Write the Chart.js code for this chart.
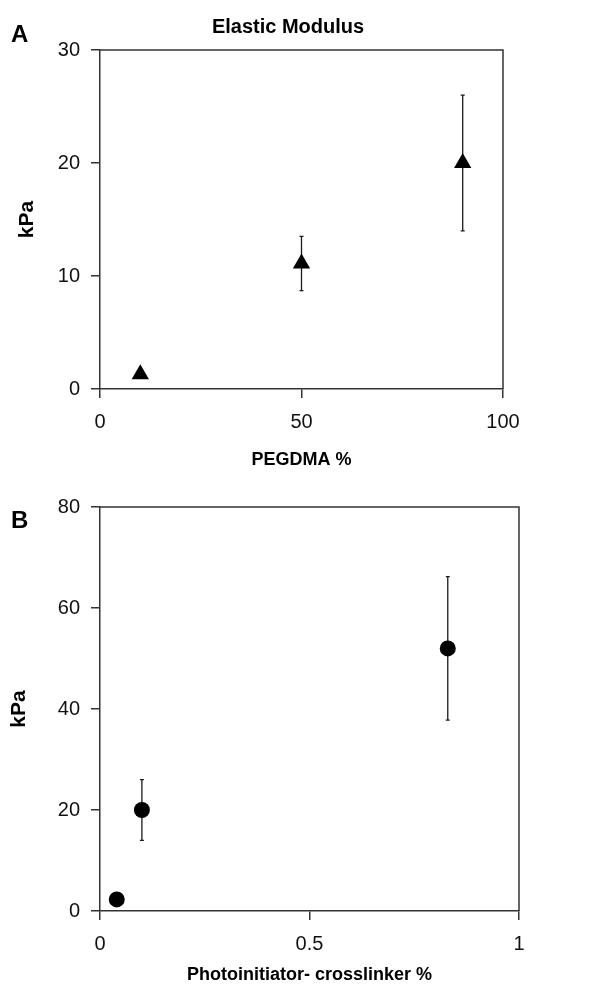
<!DOCTYPE html>
<html>
<head>
<meta charset="utf-8">
<script src="https://cdn.jsdelivr.net/npm/chart.js@4.4.0/dist/chart.umd.min.js"></script>
<style>
  body { margin: 0; background: #fff; overflow: hidden; }
  #wrapA { position: absolute; left: 0; top: 0; }
  #wrapB { position: absolute; left: 0; top: 480px; }
</style>
</head>
<body>
<div id="wrapA"><canvas id="chartA" width="610" height="480"></canvas></div>
<div id="wrapB"><canvas id="chartB" width="610" height="504"></canvas></div>
<script>
// panel A - elastic modulus vs PEGDMA %
var pegdmaPct   = [10, 50, 90];
var modulusA    = [1.3, 11.1, 20.0];
var modulusAErr = [0.3, 2.4, 6.0];
var xTicksA     = [0, 50, 100];
var yTicksA     = [0, 10, 20, 30];

// panel B - elastic modulus vs photoinitiator-crosslinker %
var photoPct    = [0.04, 0.10, 0.83];
var modulusB    = [2.3, 20.0, 52.0];
var modulusBErr = [0.5, 6.0, 14.2];
var xTicksB     = [0, 0.5, 1];
var yTicksB     = [0, 20, 40, 60, 80];

Chart.defaults.font.family = '"Liberation Sans", Arial, sans-serif';
Chart.defaults.color = '#111';

var axisColor = '#333';

// vertical error bars, drawn under the markers
function errorBars(errs) {
    return {
        id: 'errorBars',
        beforeDatasetsDraw: function (chart) {
            var ctx = chart.ctx, xs = chart.scales.x, ys = chart.scales.y;
            ctx.save();
            ctx.strokeStyle = '#1a1a1a';
            ctx.lineWidth = 1.3;
            chart.data.datasets[0].data.forEach(function (p, i) {
                var x = xs.getPixelForValue(p.x);
                var top = ys.getPixelForValue(p.y + errs[i]);
                var bot = ys.getPixelForValue(p.y - errs[i]);
                ctx.beginPath();
                ctx.moveTo(x, top); ctx.lineTo(x, bot);
                ctx.moveTo(x - 2, top); ctx.lineTo(x + 2, top);
                ctx.moveTo(x - 2, bot); ctx.lineTo(x + 2, bot);
                ctx.stroke();
            });
            ctx.restore();
        }
    };
}

// closes the box (top + right) and writes the panel letter / heading
function frame(letter, letterY, heading) {
    return {
        id: 'frame',
        afterDraw: function (chart) {
            var ctx = chart.ctx, a = chart.chartArea;
            ctx.save();
            ctx.strokeStyle = axisColor;
            ctx.lineWidth = 1.5;
            ctx.beginPath();
            ctx.moveTo(a.left, a.top); ctx.lineTo(a.right, a.top); ctx.lineTo(a.right, a.bottom);
            ctx.stroke();
            ctx.fillStyle = '#000';
            ctx.textBaseline = 'alphabetic';
            ctx.font = 'bold 24px "Liberation Sans", Arial, sans-serif';
            ctx.textAlign = 'left';
            ctx.fillText(letter, 11, letterY);
            if (heading) {
                ctx.font = 'bold 20px "Liberation Sans", Arial, sans-serif';
                ctx.textAlign = 'center';
                ctx.fillText(heading, 288, 33);
            }
            ctx.restore();
        }
    };
}

function makeScales(xTicks, yTicks, xTitle, xH, xTitlePad, xTitleLH, yTitlePad) {
    return {
        x: {
            type: 'linear',
            min: xTicks[0],
            max: xTicks[xTicks.length - 1],
            afterBuildTicks: function (s) { s.ticks = xTicks.map(function (v) { return { value: v }; }); },
            afterFit: function (s) { s.height = xH; },
            grid: { drawOnChartArea: false, drawTicks: true, tickLength: 9, color: axisColor, lineWidth: 1.5 },
            border: { color: axisColor, width: 1.5 },
            ticks: { font: { size: 20 }, padding: 12, maxRotation: 0, callback: function (v) { return String(v); } },
            title: { display: true, text: xTitle, font: { size: 18, weight: 'bold', lineHeight: xTitleLH }, color: '#000', padding: { top: 0, bottom: xTitlePad } }
        },
        y: {
            type: 'linear',
            min: yTicks[0],
            max: yTicks[yTicks.length - 1],
            afterBuildTicks: function (s) { s.ticks = yTicks.map(function (v) { return { value: v }; }); },
            afterFit: function (s) { s.width = 100; },
            grid: { drawOnChartArea: false, drawTicks: true, tickLength: 9, color: axisColor, lineWidth: 1.5 },
            border: { color: axisColor, width: 1.5 },
            ticks: { font: { size: 20 }, padding: 11, callback: function (v) { return String(v); } },
            title: { display: true, text: 'kPa', font: { size: 21, weight: 'bold' }, color: '#000', padding: { top: yTitlePad, bottom: 0 } }
        }
    };
}

function points(xs, ys) {
    return xs.map(function (x, i) { return { x: x, y: ys[i] }; });
}

new Chart(document.getElementById('chartA'), {
    type: 'scatter',
    data: {
        datasets: [{
            data: points(pegdmaPct, modulusA),
            pointStyle: 'triangle',
            pointRadius: 10,
            backgroundColor: '#000',
            borderColor: '#000',
            borderWidth: 0
        }]
    },
    options: {
        responsive: false,
        animation: false,
        layout: { padding: { left: 0, right: 107, top: 50, bottom: 0 } },
        plugins: { legend: { display: false }, tooltip: { enabled: false } },
        scales: makeScales(xTicksA, yTicksA, 'PEGDMA %', 91, 9, 1.2, 15)
    },
    plugins: [errorBars(modulusAErr), frame('A', 42, 'Elastic Modulus')]
});

new Chart(document.getElementById('chartB'), {
    type: 'scatter',
    data: {
        datasets: [{
            data: points(photoPct, modulusB),
            pointStyle: 'circle',
            pointRadius: 8,
            backgroundColor: '#000',
            borderColor: '#000',
            borderWidth: 0
        }]
    },
    options: {
        responsive: false,
        animation: false,
        layout: { padding: { left: 0, right: 91, top: 27, bottom: 0 } },
        plugins: { legend: { display: false }, tooltip: { enabled: false } },
        scales: makeScales(xTicksB, yTicksB, 'Photoinitiator- crosslinker %', 73, 0, 1.0, 7)
    },
    plugins: [errorBars(modulusBErr), frame('B', 48, null)]
});
</script>
</body>
</html>
